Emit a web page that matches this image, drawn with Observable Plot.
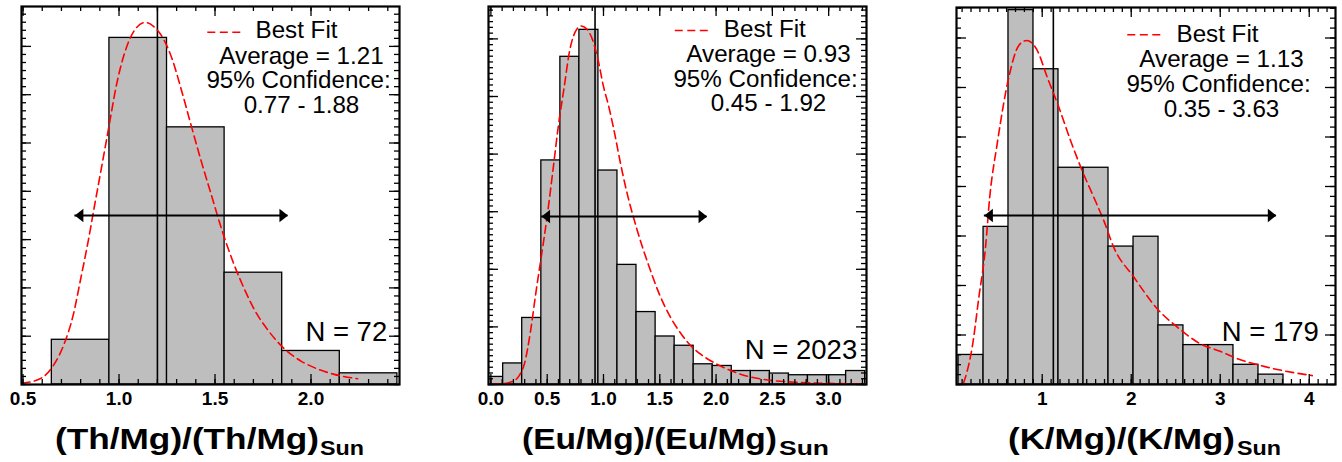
<!DOCTYPE html>
<html><head><meta charset="utf-8">
<script src="https://cdn.jsdelivr.net/npm/d3@7"></script>
<script src="https://cdn.jsdelivr.net/npm/@observablehq/plot@0.6"></script>
<style>
body{margin:0;background:#fff;}
#chart{position:relative;width:1342px;height:462px;overflow:hidden;font-family:"Liberation Sans",Arial,sans-serif;}
#chart svg{position:absolute;top:0;}
</style></head><body><div id="chart"></div>
<script>
// ---------------- data ----------------
// Panel 1: (Th/Mg)/(Th/Mg)Sun
const thBinStart = [0.35, 0.65, 0.95, 1.25, 1.55, 1.85, 2.15];
const thBinWidth = 0.3;
const thCounts = [0, 4, 31, 23, 10, 3, 1];
const thN = 72;
const thFitX = [0.495,0.594,0.655,0.715,0.759,0.802,0.84,0.871,0.906,0.95,0.984,1.028,1.08,1.137,1.193,1.236,1.28,1.323,1.375,1.427,1.479,1.531,1.6,1.653,1.705,1.775,1.861,1.948,2.035,2.121,2.243];
const thFitY = [0.005,0.026,0.075,0.17,0.28,0.444,0.596,0.734,0.886,1.08,1.23,1.37,1.466,1.499,1.473,1.424,1.34,1.225,1.075,0.928,0.79,0.652,0.495,0.395,0.31,0.226,0.148,0.097,0.064,0.042,0.024];
const thAverage = 1.21, thAverageLine = 1.20;
const thConf = [0.77, 1.88];
const thXTicks = [0.5, 1.0, 1.5, 2.0];
const thXTickLabels = ["0.5", "1.0", "1.5", "2.0"];

// Panel 2: (Eu/Mg)/(Eu/Mg)Sun
const euBinStart = [-0.06,0.109,0.278,0.448,0.617,0.786,0.955,1.124,1.294,1.463,1.632,1.801,1.970,2.140,2.309,2.478,2.647,2.816,2.986,3.155];
const euBinWidth = 0.169;
const euCounts = [9,25,79,266,389,421,254,142,86,57,46,24,22,16,16,13,11,11,11,16];
const euN = 2023;
const euFitX = [0.01,0.1,0.2,0.25,0.3,0.35,0.4,0.45,0.5,0.55,0.6,0.65,0.7,0.75,0.8,0.85,0.9,0.95,1.0,1.05,1.1,1.15,1.2,1.3,1.4,1.5,1.6,1.7,1.8,1.9,2.0,2.2,2.4,2.7,3.0,3.34];
const euFitY = [0.002,0.003,0.012,0.03,0.075,0.18,0.32,0.45,0.585,0.74,0.9,1.03,1.16,1.225,1.245,1.235,1.2,1.13,1.035,0.96,0.87,0.77,0.68,0.535,0.415,0.31,0.23,0.17,0.125,0.095,0.072,0.038,0.019,0.008,0.004,0.002];
const euAverage = 0.93, euAverageLine = 0.925;
const euConf = [0.45, 1.92];
const euXTicks = [0.0, 0.5, 1.0, 1.5, 2.0, 2.5, 3.0];
const euXTickLabels = ["0.0", "0.5", "1.0", "1.5", "2.0", "2.5", "3.0"];

// Panel 3: (K/Mg)/(K/Mg)Sun
const kBinStart = [0.060,0.341,0.621,0.902,1.183,1.464,1.745,2.026,2.306,2.587,2.868,3.149,3.430];
const kBinWidth = 0.2807;
const kCounts = [3,16,38,32,22,22,14,15,6,4,4,2,1];
const kN = 179;
const kFitX = [0.116,0.138,0.213,0.288,0.363,0.41,0.494,0.625,0.737,0.824,0.944,1.056,1.187,1.318,1.449,1.58,1.692,1.804,2.029,2.292,2.517,2.779,3.0,3.153,3.528,4.034];
const kFitY = [0.003,0.015,0.075,0.176,0.277,0.378,0.486,0.621,0.685,0.695,0.675,0.621,0.56,0.493,0.432,0.378,0.331,0.277,0.217,0.153,0.116,0.082,0.067,0.055,0.035,0.018];
const kAverage = 1.13, kAverageLine = 1.125;
const kConf = [0.35, 3.63];
const kXTicks = [1, 2, 3, 4];
const kXTickLabels = ["1", "2", "3", "4"];

// ---------------- drawing ----------------
const headRight = {draw(ctx){ ctx.moveTo(0,0); ctx.lineTo(-8.5,-6.8); ctx.lineTo(-8.5,6.8); ctx.closePath(); }};
const headLeft  = {draw(ctx){ ctx.moveTo(0,0); ctx.lineTo(8.5,-6.8); ctx.lineTo(8.5,6.8); ctx.closePath(); }};
const dashSym   = {draw(ctx){ ctx.moveTo(-16.5,0); ctx.lineTo(16.5,0); }};

function rangeStep(a, b, s) { const out = []; for (let v = a; v <= b + 1e-9; v += s) out.push(+v.toFixed(4)); return out; }

function panel(p) {
  const bars = p.binStart.map((x0, i) => ({x1: x0, x2: x0 + p.binWidth, y: p.counts[i] / (p.n * p.binWidth)}));
  const fit = p.fitX.map((x, i) => ({x, y: p.fitY[i]}));
  const H = p.height - p.mt - p.mb, W = p.width - p.ml - p.mr;
  const tk = {stroke: "black", strokeWidth: 1.3};
  const txt = {fontSize: 24.2, fill: "black", frameAnchor: "top-left"};
  const ad = p.arrowDy;
  const svg = Plot.plot({
    width: p.width, height: p.height,
    marginLeft: p.ml, marginRight: p.mr, marginTop: p.mt, marginBottom: p.mb,
    x: {domain: p.xDomain, axis: null, label: null},
    y: {domain: p.yDomain, axis: null, label: null},
    style: {fontFamily: "Liberation Sans, Arial, sans-serif", background: "transparent", color: "black", overflow: "visible"},
    marks: [
      Plot.rectY(bars, {x1: "x1", x2: "x2", y: "y", fill: "#bebebe", stroke: "black", strokeWidth: 1.3, clip: true}),
      Plot.ruleX([p.avgLine], {stroke: "black", strokeWidth: 1.6}),
      Plot.line(fit, {x: "x", y: "y", stroke: "#ff0000", strokeWidth: 1.6, strokeDasharray: "8,4.5", curve: "monotone-x", clip: true}),
      // confidence arrow
      Plot.ruleY([p.conf], {y: null, x1: d => d[0], x2: d => d[1], stroke: "black", strokeWidth: 2, dy: ad}),
      Plot.dot([p.conf[0]], {x: d => d, frameAnchor: "middle", symbol: headLeft, fill: "black", r: 5, dy: ad}),
      Plot.dot([p.conf[1]], {x: d => d, frameAnchor: "middle", symbol: headRight, fill: "black", r: 5, dy: ad}),
      // frame ticks (inward, all four sides)
      Plot.tickX(p.xMinor, {...tk, insetTop: H - 5}),
      Plot.tickX(p.xMinor, {...tk, insetBottom: H - 5}),
      Plot.tickX(p.xTicks, {...tk, insetTop: H - 10}),
      Plot.tickX(p.xTicks, {...tk, insetBottom: H - 10}),
      Plot.tickY(p.yMinor, {...tk, insetRight: W - 5}),
      Plot.tickY(p.yMinor, {...tk, insetLeft: W - 5}),
      Plot.tickY(p.yMajor, {...tk, insetRight: W - 10}),
      Plot.tickY(p.yMajor, {...tk, insetLeft: W - 10}),
      Plot.axisX(p.xTicks, {anchor: "bottom", tickSize: 0, tickPadding: 6.5, fontSize: 19, fontWeight: "bold", label: null,
        tickFormat: (d) => p.xLabels[p.xTicks.indexOf(d)]}),
      Plot.frame({stroke: "black", strokeWidth: 2.2}),
      // legend + annotations
      Plot.dot([0], {frameAnchor: "top-left", symbol: dashSym, fill: "none", stroke: "#ff0000", strokeWidth: 1.6, strokeDasharray: "8,4.5", dx: p.leg[0], dy: p.leg[1]}),
      Plot.text(["Best Fit"], {...txt, textAnchor: "start", lineAnchor: "bottom", dx: p.bf[0], dy: p.bf[1]}),
      Plot.text([`Average = ${p.avg.toFixed(2)}`], {...txt, textAnchor: "middle", lineAnchor: "bottom", dx: p.st[0], dy: p.st[1] - 2 * p.ls}),
      Plot.text(["95% Confidence:"], {...txt, textAnchor: "middle", lineAnchor: "bottom", dx: p.st[0] - 3, dy: p.st[1] - p.ls}),
      Plot.text([`${p.conf[0].toFixed(2)} - ${p.conf[1].toFixed(2)}`], {...txt, textAnchor: "middle", lineAnchor: "bottom", dx: p.st[0], dy: p.st[1]}),
      Plot.text([`N = ${p.n}`], {...txt, fontSize: 27.5, textAnchor: "end", lineAnchor: "bottom", dx: p.nn[0], dy: p.nn[1]})
    ]
  });
  svg.style.left = p.left + "px";
  return svg;
}

const chart = document.getElementById("chart");
const panels = [
  {left: 0, width: 440, height: 420, ml: 21, mr: 41, mt: 6, mb: 36,
   xDomain: [0.492, 2.461], yDomain: [0, 1.5652],
   binStart: thBinStart, binWidth: thBinWidth, counts: thCounts, n: thN, fitX: thFitX, fitY: thFitY,
   avg: thAverage, avgLine: thAverageLine, conf: thConf, xTicks: thXTicks, xLabels: thXTickLabels,
   xMinor: rangeStep(0.5, 2.4, 0.1), yMajor: rangeStep(0, 1.4, 0.2), yMinor: rangeStep(0, 1.56, 0.2/6),
   arrowDy: 20, leg: [202.3, 25.7], bf: [234, 31.3], st: [280, 106], ls: 24.5, nn: [365.7, 334]},
  {left: 450, width: 440, height: 420, ml: 38, mr: 24, mt: 6, mb: 36,
   xDomain: [-0.0213, 3.336], yDomain: [0, 1.3125],
   binStart: euBinStart, binWidth: euBinWidth, counts: euCounts, n: euN, fitX: euFitX, fitY: euFitY,
   avg: euAverage, avgLine: euAverageLine, conf: euConf, xTicks: euXTicks, xLabels: euXTickLabels,
   xMinor: rangeStep(0, 3.3, 0.1), yMajor: rangeStep(0, 1.2, 0.2), yMinor: rangeStep(0, 1.3, 0.02),
   arrowDy: 21, leg: [202.8, 24], bf: [235.3, 30], st: [280, 104.5], ls: 24.5, nn: [368.7, 352.3]},
  {left: 910, width: 432, height: 420, ml: 46, mr: 7, mt: 7, mb: 36,
   xDomain: [0.037, 4.295], yDomain: [0, 0.7616],
   binStart: kBinStart, binWidth: kBinWidth, counts: kCounts, n: kN, fitX: kFitX, fitY: kFitY,
   avg: kAverage, avgLine: kAverageLine, conf: kConf, xTicks: kXTicks, xLabels: kXTickLabels,
   xMinor: rangeStep(0.1, 4.2, 0.1), yMajor: rangeStep(0, 0.7, 0.1), yMinor: rangeStep(0, 0.76, 0.02),
   arrowDy: 19.5, leg: [187.3, 27.3], bf: [220, 34.7], st: [265, 109], ls: 24.8, nn: [362.3, 333]}
];
panels.forEach(p => chart.appendChild(panel(p)));

// axis titles with subscript (stretched bold type as in the original)
const titles = [
  {main: "(Th/Mg)/(Th/Mg)", sub: "Sun", x: 55, w: 264, sx: 320, sw: 44},
  {main: "(Eu/Mg)/(Eu/Mg)", sub: "Sun", x: 522, w: 255, sx: 779, sw: 50},
  {main: "(K/Mg)/(K/Mg)", sub: "Sun", x: 1008, w: 227, sx: 1237, sw: 44}
];
const tsvg = d3.select(chart).append("svg").attr("width", 1342).attr("height", 462).style("left", "0px")
  .style("font-family", "Liberation Sans, Arial, sans-serif").style("font-weight", "bold");
titles.forEach(t => {
  tsvg.append("text").attr("x", t.x).attr("y", 449).attr("font-size", 30)
    .attr("textLength", t.w).attr("lengthAdjust", "spacingAndGlyphs").text(t.main);
  tsvg.append("text").attr("x", t.sx).attr("y", 455).attr("font-size", 21)
    .attr("textLength", t.sw).attr("lengthAdjust", "spacingAndGlyphs").text(t.sub);
});
</script></body></html>
